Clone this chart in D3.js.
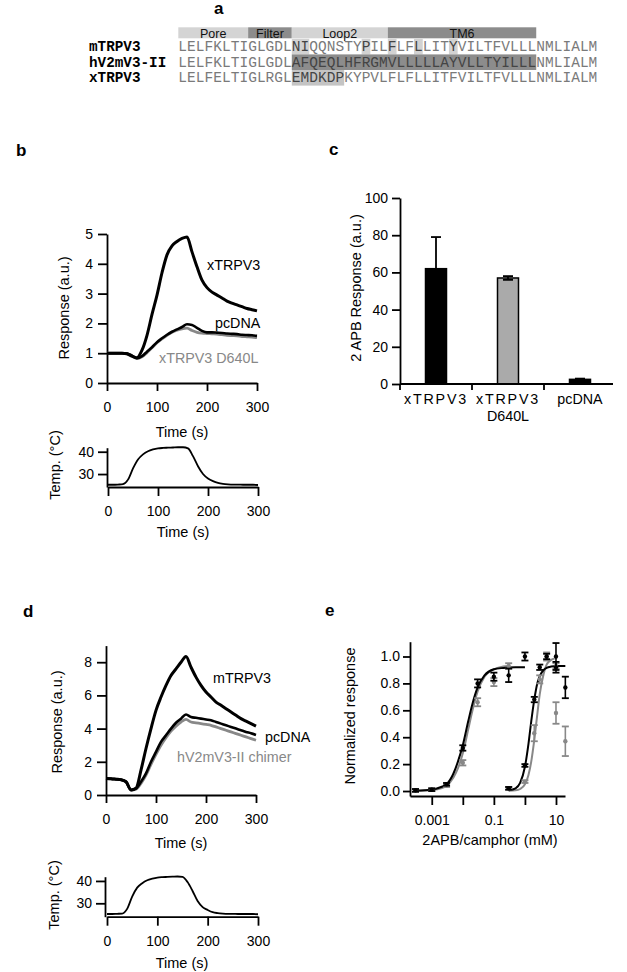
<!DOCTYPE html>
<html><head><meta charset="utf-8">
<script src="https://cdn.jsdelivr.net/npm/d3@7"></script>
<style>
body{margin:0;background:#fff}
svg text{font-family:"Liberation Sans",Arial,Helvetica,sans-serif}
</style>
</head><body>
<svg id="fig" width="627" height="972"></svg>
<script>
// ================= DATA =================
// Panel a: sequence alignment
const seqNames = ["mTRPV3", "hV2mV3-II", "xTRPV3"];
const seqs = [
  "LELFKLTIGLGDLNIQQNSTYPILFLFLLITYVILTFVLLLNMLIALM",
  "LELFKLTIGLGDLAFQEQLHFRGMVLLLLLAYVLLTYILLLNMLIALM",
  "LELFELTIGLRGLEMDKDPKYPVLFLFLLITFVILTFVLLLNMLIALM"
];
const regionNames = ["Pore", "Filter", "Loop2", "TM6"];
const regionStart = [0, 8, 13, 24];
const regionEnd = [8, 13, 24, 41];
const highlightRow = [0, 0, 0, 0, 0, 1, 2];
const highlightStart = [13, 21, 24, 27, 31, 13, 13];
const highlightEnd = [15, 22, 25, 28, 32, 41, 19];

// Panel b: xTRPV3 heat responses
const timeB = [0,10,20,30,40,50,60,70,80,90,100,110,120,130,140,150,160,170,180,190,200,210,220,230,240,250,260,270,280,290,300];
const xTRPV3B = [1.0,1.0,1.0,1.0,0.98,0.9,0.85,1.1,1.6,2.3,2.95,3.7,4.3,4.6,4.75,4.85,4.9,4.4,3.9,3.45,3.2,3.05,2.95,2.85,2.75,2.68,2.62,2.56,2.5,2.46,2.42];
const pcDNAB = [1.0,1.0,1.0,1.0,0.99,0.92,0.83,0.9,1.05,1.2,1.37,1.5,1.62,1.72,1.8,1.88,1.97,1.95,1.85,1.75,1.7,1.7,1.69,1.68,1.66,1.65,1.64,1.62,1.61,1.6,1.58];
const d640LB = [1.0,1.0,1.0,1.0,0.98,0.9,0.82,0.88,1.02,1.18,1.35,1.48,1.6,1.7,1.77,1.82,1.84,1.76,1.7,1.67,1.66,1.65,1.64,1.62,1.6,1.59,1.58,1.56,1.55,1.54,1.52];
const tempB = [25.2,25.2,25.3,25.5,27.5,32.5,36.5,38.8,40.2,41.0,41.5,41.7,41.8,41.9,42.0,42.0,41.5,38,33.5,30,28,26.8,26,25.6,25.4,25.3,25.3,25.2,25.2,25.2,25.1];

// Panel c: 2APB responses
const barCats = ["xTRPV3", "xTRPV3 D640L", "pcDNA"];
const barLabelLines = [["xTRPV3"], ["xTRPV3", "D640L"], ["pcDNA"]];
const barMeans = [62, 57, 2.5];
const barErrs = [17, 1, 0.4];

// Panel d: mTRPV3 heat responses
const timeD = [0,10,20,30,40,50,60,70,80,90,100,110,120,130,140,150,160,170,180,190,200,210,220,230,240,250,260,270,280,290,300];
const mTRPV3D = [1.0,0.98,0.95,0.92,0.8,0.3,0.4,1.5,2.8,4.0,5.1,5.9,6.6,7.2,7.6,8.0,8.35,7.7,7.1,6.6,6.2,5.9,5.6,5.4,5.2,5.0,4.8,4.6,4.45,4.3,4.15];
const pcDNAD = [1.0,0.98,0.95,0.92,0.8,0.3,0.4,0.8,1.3,2.0,2.6,3.2,3.6,4.0,4.35,4.6,4.85,4.7,4.65,4.6,4.55,4.5,4.4,4.3,4.2,4.1,4.0,3.9,3.8,3.72,3.62];
const chimerD = [1.0,0.98,0.95,0.92,0.8,0.3,0.35,0.7,1.2,1.85,2.45,3.0,3.45,3.85,4.15,4.4,4.55,4.4,4.35,4.3,4.25,4.2,4.1,4.0,3.9,3.8,3.7,3.6,3.5,3.4,3.3];
const tempD = [25.2,25.2,25.3,25.4,27.5,33,37,39,40.3,41.0,41.5,41.7,41.8,41.9,42.0,41.8,39.5,35.5,31,28.3,27,26,25.6,25.4,25.3,25.3,25.2,25.2,25.2,25.2,25.1];

// Panel e: dose-response
const conc2APBBlack = [0.0003,0.001,0.003,0.01,0.03,0.1,0.3,1];
const resp2APBBlack = [0.005,0.01,0.05,0.32,0.80,0.85,0.86,1.0];
const err2APBBlack = [0.01,0.01,0.01,0.02,0.03,0.03,0.05,0.03];
const conc2APBGray = [0.0003,0.001,0.003,0.01,0.03,0.1,0.3];
const resp2APBGray = [0.003,0.01,0.04,0.21,0.66,0.81,0.93];
const err2APBGray = [0.01,0.01,0.01,0.02,0.03,0.03,0.02];
const concCamBlack = [0.3,1,2,3,5,10,10,20];
const respCamBlack = [0.02,0.19,0.68,0.92,1.0,0.92,1.0,0.77];
const errCamBlack = [0.01,0.01,0.02,0.02,0.02,0.04,0.1,0.08];
const concCamGray = [0.3,1,2,3,5,10,10,20];
const respCamGray = [0.02,0.07,0.43,0.83,1.0,0.93,0.58,0.37];
const errCamGray = [0.01,0.01,0.06,0.03,0.03,0.02,0.08,0.11];
const fit2APBBlackX = [0.0003,0.001,0.002,0.003,0.005,0.007,0.01,0.015,0.02,0.03,0.05,0.1,0.2,0.5,1];
const fit2APBBlackY = [0.003,0.01,0.03,0.05,0.13,0.22,0.34,0.52,0.64,0.77,0.86,0.905,0.915,0.92,0.92];
const fit2APBGrayX = [0.0003,0.001,0.002,0.003,0.005,0.007,0.01,0.015,0.02,0.03,0.05,0.1,0.2,0.3];
const fit2APBGrayY = [0.002,0.008,0.02,0.04,0.1,0.17,0.28,0.46,0.59,0.74,0.85,0.905,0.925,0.93];
const fitCamBlackX = [0.3,0.5,0.7,1,1.3,1.6,2,2.5,3,4,5,7,10,20];
const fitCamBlackY = [0.005,0.02,0.06,0.18,0.35,0.52,0.68,0.8,0.855,0.9,0.915,0.925,0.93,0.93];
const fitCamGrayX = [0.3,0.5,0.7,1,1.3,1.6,2,2.5,3,4,5,7,9];
const fitCamGrayY = [0.002,0.005,0.015,0.05,0.12,0.22,0.38,0.57,0.72,0.87,0.94,0.975,0.985];

// tick values
const timeTicks = [0,100,200,300];
const respTicksB = [0,1,2,3,4,5];
const tempTicks = [30,40];
const barTicks = [0,20,40,60,80,100];
const respTicksD = [0,2,4,6,8];
const concTicks = [0.001,0.01,0.1,1,10];
const concTickLabels = ["0.001","","0.1","","10"];
const normTicks = [0,0.2,0.4,0.6,0.8,1.0];

// ================= DRAWING =================
const FONT = '"Liberation Sans", Arial, Helvetica, sans-serif';
const MONO = '"Liberation Mono", "Courier New", Courier, monospace';
const GRAY = "#888";
const svg = d3.select("#fig");
const intFmt = d3.format("d");

function styleAxis(g, fs) {
  g.attr("font-family", FONT).attr("font-size", fs || 14);
  g.selectAll("path.domain").attr("stroke", "#000").attr("stroke-width", 1.8);
  g.selectAll(".tick line").attr("stroke", "#000").attr("stroke-width", 1.8);
  g.selectAll(".tick text").attr("fill", "#000");
}
function text(x, y, s, o) {
  o = o || {};
  const t = svg.append("text").attr("x", x).attr("y", y).text(s)
    .attr("font-size", o.size || 14.5).attr("fill", o.fill || "#000")
    .attr("text-anchor", o.anchor || "start");
  if (o.weight) t.attr("font-weight", o.weight);
  if (o.rotate) t.attr("transform", `rotate(-90,${x},${y})`);
  if (o.family) t.style("font-family", o.family);
  if (o.ls) t.attr("letter-spacing", o.ls);
  return t;
}

// panel letters
text(214, 14, "a", {size: 17, weight: "bold"});
text(16, 156, "b", {size: 17, weight: "bold"});
text(329, 155, "c", {size: 17, weight: "bold"});
text(23, 617, "d", {size: 17, weight: "bold"});
text(325, 616, "e", {size: 17, weight: "bold"});

// ---------- Panel a ----------
(function(){
  const xS = d3.scaleLinear().domain([0, 48]).range([178.3, 178.3 + 48 * 8.73]);
  const yS = d3.scaleBand().domain(seqNames).range([38.8, 38.8 + 15.6 * 3]);
  const g = svg.append("g");
  const shade = {Pore: "#d4d4d4", Filter: "#8c8c8c", Loop2: "#d4d4d4", TM6: "#8c8c8c"};
  regionNames.forEach((r, i) => {
    g.append("rect").attr("x", xS(regionStart[i])).attr("y", 27.3)
      .attr("width", xS(regionEnd[i]) - xS(regionStart[i])).attr("height", 11)
      .attr("fill", shade[r]);
    g.append("text").attr("x", (xS(regionStart[i]) + xS(regionEnd[i])) / 2).attr("y", 38)
      .attr("text-anchor", "middle").attr("font-size", 12.5).attr("fill", "#111").text(r);
  });
  const hlFill = ["#d2d2d2", "#8c8c8c", "#c4c4c4"];
  highlightRow.forEach((row, k) => {
    g.append("rect").attr("x", xS(highlightStart[k])).attr("y", yS(seqNames[row]))
      .attr("width", xS(highlightEnd[k]) - xS(highlightStart[k])).attr("height", yS.bandwidth())
      .attr("fill", hlFill[row]);
  });
  seqNames.forEach((n, r) => {
    g.append("text").attr("x", 89).attr("y", yS(n) + 12.3).text(n)
      .style("font-family", MONO).attr("font-weight", "bold").attr("font-size", 14.3).attr("fill", "#000");
    seqs[r].split("").forEach((ch, i) => {
      let hl = false;
      highlightRow.forEach((row, k) => { if (row === r && i >= highlightStart[k] && i < highlightEnd[k]) hl = true; });
      g.append("text").attr("x", xS(i + 0.5)).attr("y", yS(n) + 12.3).text(ch)
        .attr("text-anchor", "middle").style("font-family", MONO).attr("font-size", 14.5)
        .attr("fill", hl ? "#444" : "#7a7a7a");
    });
  });
})();

// ---------- Panel b ----------
(function(){
  const x = d3.scaleLinear().domain([0, 300]).range([107, 257]);
  const y = d3.scaleLinear().domain([0, 5]).range([383, 234]);
  const g = svg.append("g");
  const ax = g.append("g").attr("transform", "translate(0,383)")
    .call(d3.axisBottom(x).tickValues(timeTicks).tickSize(8).tickPadding(11).tickSizeOuter(0));
  styleAxis(ax);
  const ay = g.append("g").attr("transform", "translate(107,0)")
    .call(d3.axisLeft(y).tickValues(respTicksB).tickFormat(intFmt).tickSize(9).tickPadding(5).tickSizeOuter(0));
  styleAxis(ay);
  const line = d3.line().x((d, i) => x(timeB[i])).y(d => y(d)).curve(d3.curveMonotoneX);
  g.append("path").datum(d640LB).attr("d", line).attr("fill", "none").attr("stroke", GRAY).attr("stroke-width", 2.8);
  g.append("path").datum(pcDNAB).attr("d", line).attr("fill", "none").attr("stroke", "#000").attr("stroke-width", 2.6);
  g.append("path").datum(xTRPV3B).attr("d", line).attr("fill", "none").attr("stroke", "#000").attr("stroke-width", 3);
  text(207, 270, "xTRPV3", {size: 14.3});
  text(215, 328, "pcDNA", {size: 14.3});
  text(159, 363, "xTRPV3 D640L", {size: 14.3, fill: GRAY});
  text(182, 437, "Time (s)", {anchor: "middle"});
  text(69, 308, "Response (a.u.)", {anchor: "middle", rotate: true});

  // temperature
  const xt = d3.scaleLinear().domain([0, 300]).range([108, 258]);
  const yt = d3.scaleLinear().domain([24.2, 41.8]).range([487, 447.7]);
  const tx = g.append("g").attr("transform", "translate(0,487)")
    .call(d3.axisBottom(xt).tickValues(timeTicks).tickSize(9).tickPadding(10).tickSizeOuter(0));
  styleAxis(tx);
  const ty = g.append("g").attr("transform", "translate(107,0)")
    .call(d3.axisLeft(yt).tickValues(tempTicks).tickSize(9).tickPadding(4).tickSizeOuter(0));
  styleAxis(ty);
  const tl = d3.line().x((d, i) => xt(timeB[i])).y(d => yt(d)).curve(d3.curveMonotoneX);
  g.append("path").datum(tempB).attr("d", tl).attr("fill", "none").attr("stroke", "#000").attr("stroke-width", 1.8);
  text(183, 537, "Time (s)", {anchor: "middle"});
  text(60, 465, "Temp. (°C)", {anchor: "middle", rotate: true});
})();

// ---------- Panel c ----------
(function(){
  const x = d3.scaleBand().domain(barCats).range([400, 616]);
  const y = d3.scaleLinear().domain([0, 100]).range([384, 198]);
  const g = svg.append("g");
  const ay = g.append("g").attr("transform", "translate(400,0)")
    .call(d3.axisLeft(y).tickValues(barTicks).tickSize(8).tickPadding(4).tickSizeOuter(0));
  styleAxis(ay, 14);
  const fills = ["#000", "#aaaaaa", "#000"];
  const bw = 21;
  barCats.forEach((c, i) => {
    const cx = x(c) + x.bandwidth() / 2;
    g.append("rect").attr("x", cx - bw / 2).attr("y", y(barMeans[i])).attr("width", bw)
      .attr("height", y(0) - y(barMeans[i])).attr("fill", fills[i]).attr("stroke", "#000").attr("stroke-width", 1.5);
    const top = y(barMeans[i] + barErrs[i]), bot = y(barMeans[i] - barErrs[i]);
    g.append("line").attr("x1", cx).attr("x2", cx).attr("y1", top).attr("y2", bot).attr("stroke", "#000").attr("stroke-width", 1.8);
    [top, bot].forEach(v => g.append("line").attr("x1", cx - 5).attr("x2", cx + 5).attr("y1", v).attr("y2", v).attr("stroke", "#000").attr("stroke-width", 1.8));
    barLabelLines[i].forEach((s, j) => {
      text(cx, 404 + j * 17, s, {anchor: "middle", size: 14.3, ls: (s === "xTRPV3" ? 1.8 : 0)});
    });
  });
  g.append("line").attr("x1", 400).attr("x2", 613).attr("y1", 384).attr("y2", 384).attr("stroke", "#000").attr("stroke-width", 1.8);
  barCats.slice(1).forEach(c => {
    g.append("line").attr("x1", x(c)).attr("x2", x(c)).attr("y1", 384).attr("y2", 390).attr("stroke", "#000").attr("stroke-width", 1.8);
  });
  g.append("line").attr("x1", 400).attr("x2", 400).attr("y1", 384).attr("y2", 390).attr("stroke", "#000").attr("stroke-width", 1.8);
  text(361, 288, "2 APB Response (a.u.)", {anchor: "middle", rotate: true});
})();

// ---------- Panel d ----------
(function(){
  const x = d3.scaleLinear().domain([0, 300]).range([106, 256]);
  const y = d3.scaleLinear().domain([0, 9]).range([795, 645.6]);
  const g = svg.append("g");
  const ax = g.append("g").attr("transform", "translate(0,795)")
    .call(d3.axisBottom(x).tickValues(timeTicks).tickSize(8).tickPadding(11).tickSizeOuter(0));
  styleAxis(ax);
  const ay = g.append("g").attr("transform", "translate(106,0)")
    .call(d3.axisLeft(y).tickValues(respTicksD).tickFormat(intFmt).tickSize(9).tickPadding(5).tickSizeOuter(0));
  styleAxis(ay);
  const line = d3.line().x((d, i) => x(timeD[i])).y(d => y(d)).curve(d3.curveMonotoneX);
  g.append("path").datum(chimerD).attr("d", line).attr("fill", "none").attr("stroke", GRAY).attr("stroke-width", 2.8);
  g.append("path").datum(pcDNAD).attr("d", line).attr("fill", "none").attr("stroke", "#000").attr("stroke-width", 2.6);
  g.append("path").datum(mTRPV3D).attr("d", line).attr("fill", "none").attr("stroke", "#000").attr("stroke-width", 3);
  text(213, 683, "mTRPV3", {size: 14.3});
  text(265, 742, "pcDNA", {size: 14.3});
  text(177, 762, "hV2mV3-II chimer", {size: 14.3, fill: GRAY});
  text(181, 848, "Time (s)", {anchor: "middle"});
  text(62, 722, "Response (a.u.)", {anchor: "middle", rotate: true});

  const xt = d3.scaleLinear().domain([0, 300]).range([107, 258]);
  const yt = d3.scaleLinear().domain([24, 41.9]).range([916.7, 876.7]);
  const tx = g.append("g").attr("transform", "translate(0,916.7)")
    .call(d3.axisBottom(xt).tickValues(timeTicks).tickSize(9).tickPadding(10).tickSizeOuter(0));
  styleAxis(tx);
  const ty = g.append("g").attr("transform", "translate(105,0)")
    .call(d3.axisLeft(yt).tickValues(tempTicks).tickSize(9).tickPadding(4).tickSizeOuter(0));
  styleAxis(ty);
  const tl = d3.line().x((d, i) => xt(timeD[i])).y(d => yt(d)).curve(d3.curveMonotoneX);
  g.append("path").datum(tempD).attr("d", tl).attr("fill", "none").attr("stroke", "#000").attr("stroke-width", 1.8);
  text(182, 968, "Time (s)", {anchor: "middle"});
  text(59, 895, "Temp. (°C)", {anchor: "middle", rotate: true});
})();

// ---------- Panel e ----------
(function(){
  const x = d3.scaleLog().domain([Math.pow(10, -3.7), Math.pow(10, 1.29)]).range([410, 565]);
  const y = d3.scaleLinear().domain([-0.037, 1.11]).range([796, 641.7]);
  const g = svg.append("g");
  const ax = g.append("g").attr("transform", "translate(0,796)")
    .call(d3.axisBottom(x).tickValues(concTicks).tickFormat((d, i) => concTickLabels[i]).tickSize(9).tickPadding(10).tickSizeOuter(0));
  styleAxis(ax);
  const ay = g.append("g").attr("transform", "translate(410,0)")
    .call(d3.axisLeft(y).tickValues(normTicks).tickFormat(d3.format(".1f")).tickSize(7).tickPadding(3).tickSizeOuter(0));
  styleAxis(ay);
  const fit = (xs, ys, col) => {
    const l = d3.line().x((d, i) => x(xs[i])).y(d => y(d)).curve(d3.curveMonotoneX);
    g.append("path").datum(ys).attr("d", l).attr("fill", "none").attr("stroke", col).attr("stroke-width", 2);
  };
  fit(fit2APBGrayX, fit2APBGrayY, GRAY);
  fit(fitCamGrayX, fitCamGrayY, GRAY);
  fit(fit2APBBlackX, fit2APBBlackY, "#000");
  fit(fitCamBlackX, fitCamBlackY, "#000");
  const pts = (xs, ys, es, col) => {
    xs.forEach((c, i) => {
      const cx = x(c), t = y(ys[i] + es[i]), b = y(ys[i] - es[i]);
      g.append("line").attr("x1", cx).attr("x2", cx).attr("y1", t).attr("y2", b).attr("stroke", col).attr("stroke-width", 1.6);
      [t, b].forEach(v => g.append("line").attr("x1", cx - 3.5).attr("x2", cx + 3.5).attr("y1", v).attr("y2", v).attr("stroke", col).attr("stroke-width", 1.8));
      g.append("circle").attr("cx", cx).attr("cy", y(ys[i])).attr("r", 2.2).attr("fill", col);
    });
  };
  pts(conc2APBGray, resp2APBGray, err2APBGray, GRAY);
  pts(concCamGray, respCamGray, errCamGray, GRAY);
  pts(conc2APBBlack, resp2APBBlack, err2APBBlack, "#000");
  pts(concCamBlack, respCamBlack, errCamBlack, "#000");
  text(490, 845, "2APB/camphor (mM)", {anchor: "middle"});
  text(355, 716, "Normalized response", {anchor: "middle", rotate: true});
})();
</script>
</body></html>
